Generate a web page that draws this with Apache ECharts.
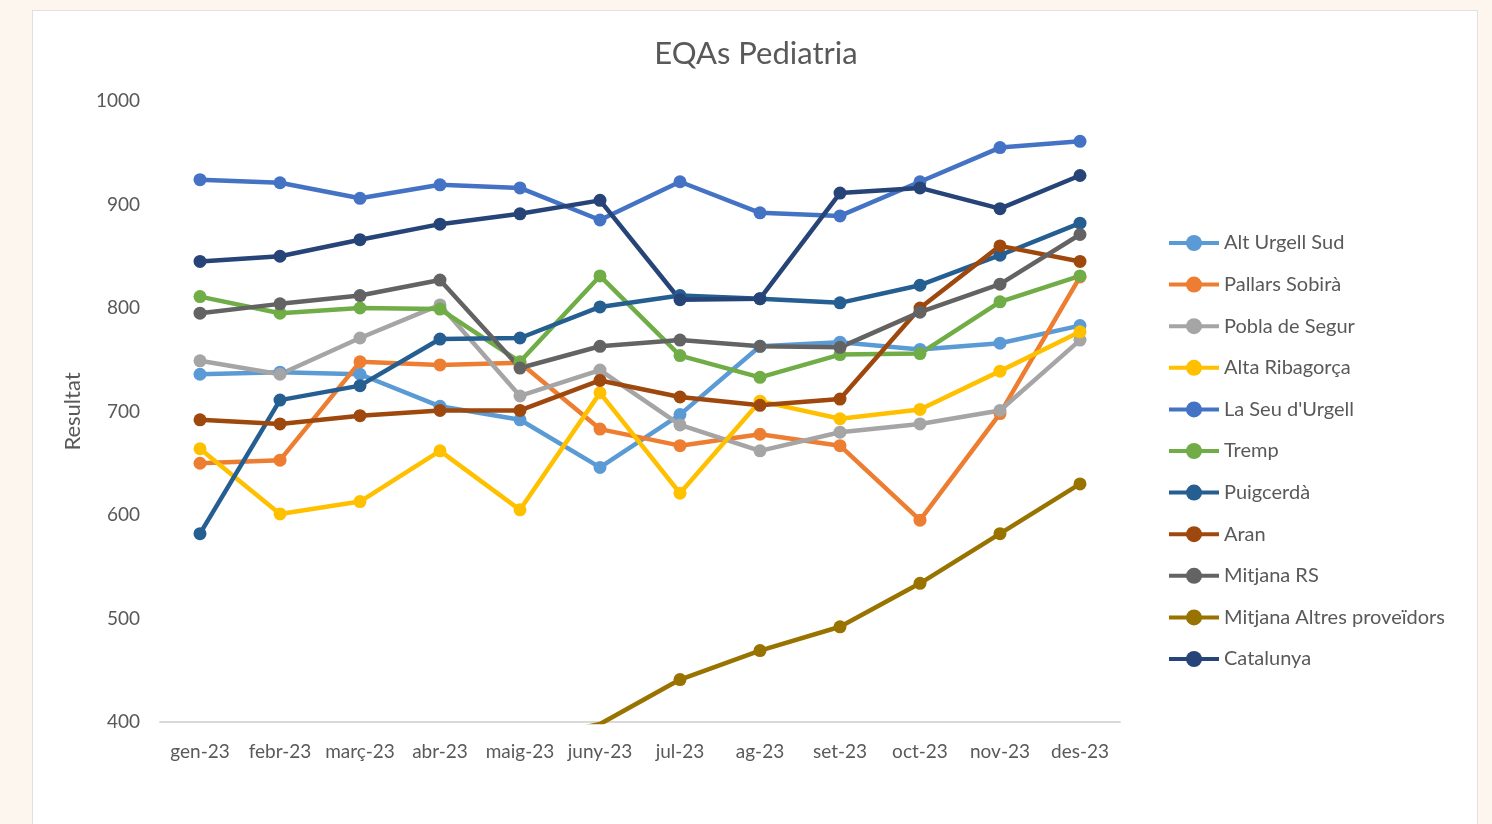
<!DOCTYPE html>
<html>
<head>
<meta charset="utf-8">
<title>EQAs Pediatria</title>
<script src="https://cdn.jsdelivr.net/npm/echarts@6/dist/echarts.min.js"></script>
<style>
  html, body { margin: 0; padding: 0; }
  body { width: 1492px; height: 824px; background: #fdf6ef; position: relative; overflow: hidden; }
  .card { position: absolute; left: 32px; top: 10px; width: 1444px; height: 830px; background: #fff; border: 1px solid #e2dfdc; }
  #chart { position: absolute; left: 0; top: 0; width: 1492px; height: 824px; }
</style>
</head>
<body>
<div class="card"></div>
<div id="chart"></div>
<script>
// mesos
const months = ['gen-23', 'febr-23', 'març-23', 'abr-23', 'maig-23', 'juny-23', 'jul-23', 'ag-23', 'set-23', 'oct-23', 'nov-23', 'des-23']
const yTicks = [400, 500, 600, 700, 800, 900, 1000]

// valors llegits del gràfic
const altUrgellSud = [736, 738, 736, 705, 692, 646, 697, 763, 767, 760, 766, 783]
const pallarsSobira = [650, 653, 748, 745, 747, 683, 667, 678, 667, 595, 698, 830]
const poblaSegur = [749, 736, 771, 803, 715, 740, 687, 662, 680, 688, 701, 769]
const altaRibagorca = [664, 601, 613, 662, 605, 718, 621, 710, 693, 702, 739, 777]
const seuUrgell = [924, 921, 906, 919, 916, 885, 922, 892, 889, 922, 955, 961]
const tremp = [811, 795, 800, 799, 748, 831, 754, 733, 755, 756, 806, 831]
const puigcerda = [582, 711, 725, 770, 771, 801, 812, 809, 805, 822, 851, 882]
const aran = [692, 688, 696, 701, 701, 730, 714, 706, 712, 800, 860, 845]
const mitjanaRS = [795, 804, 812, 827, 742, 763, 769, 763, 762, 796, 823, 871]
const mitjanaAltres = [330, 342, 355, 368, 382, 398, 441, 469, 492, 534, 582, 630]
const catalunya = [845, 850, 866, 881, 891, 904, 808, 809, 911, 916, 896, 928]

const seriesList = [
  { name: 'Alt Urgell Sud', data: altUrgellSud, color: '#5b9bd5' },
  { name: 'Pallars Sobirà', data: pallarsSobira, color: '#ed7d31' },
  { name: 'Pobla de Segur', data: poblaSegur, color: '#a5a5a5' },
  { name: 'Alta Ribagorça', data: altaRibagorca, color: '#ffc000' },
  { name: "La Seu d'Urgell", data: seuUrgell, color: '#4472c4' },
  { name: 'Tremp', data: tremp, color: '#70ad47' },
  { name: 'Puigcerdà', data: puigcerda, color: '#255e91' },
  { name: 'Aran', data: aran, color: '#9e480e' },
  { name: 'Mitjana RS', data: mitjanaRS, color: '#636363' },
  { name: 'Mitjana Altres proveïdors', data: mitjanaAltres, color: '#997300' },
  { name: 'Catalunya', data: catalunya, color: '#264478' }
]

const font = 'Lato, "Open Sans", sans-serif'
const chart = echarts.init(document.getElementById('chart'))

const option = {
  animation: false,
  title: {
    text: 'EQAs Pediatria',
    left: 751,
    top: 33,
    textAlign: 'center',
    textStyle: { color: '#595959', fontSize: 31, fontWeight: 'normal', fontFamily: font }
  },
  legend: {
    orient: 'vertical',
    left: 1167,
    top: 233,
    padding: 0,
    itemWidth: 50,
    itemHeight: 20,
    itemGap: 21.6,
    lineStyle: { width: 4 },
    textStyle: { color: '#595959', fontSize: 20, fontFamily: font, lineHeight: 20 },
    data: seriesList.map(s => s.name)
  },
  grid: {
    left: 160,
    right: 372,
    top: 101,
    bottom: 102
  },
  xAxis: {
    type: 'category',
    data: months,
    boundaryGap: true,
    axisLine: { lineStyle: { color: '#d9d9d9', width: 2 } },
    axisTick: { show: false },
    axisLabel: { color: '#595959', fontSize: 19, fontFamily: font, margin: 20, interval: 0 }
  },
  yAxis: {
    type: 'value',
    min: yTicks[0],
    max: yTicks[yTicks.length - 1],
    interval: 100,
    name: 'Resultat',
    nameLocation: 'middle',
    nameGap: 76,
    nameTextStyle: { color: '#595959', fontSize: 22, fontFamily: font },
    axisLine: { show: false },
    axisTick: { show: false },
    splitLine: { show: false },
    axisLabel: { color: '#595959', fontSize: 19, fontFamily: font, margin: 20, formatter: v => String(v) }
  },
  series: seriesList.map(s => ({
    name: s.name,
    type: 'line',
    data: s.data,
    clip: true,
    symbol: 'circle',
    symbolSize: 13,
    lineStyle: { width: 4.5, color: s.color },
    itemStyle: { color: s.color },
    emphasis: { disabled: true }
  }))
}

chart.setOption(option)

window.addEventListener('resize', () => {
  chart && chart.resize()
})
</script>
</body>
</html>
